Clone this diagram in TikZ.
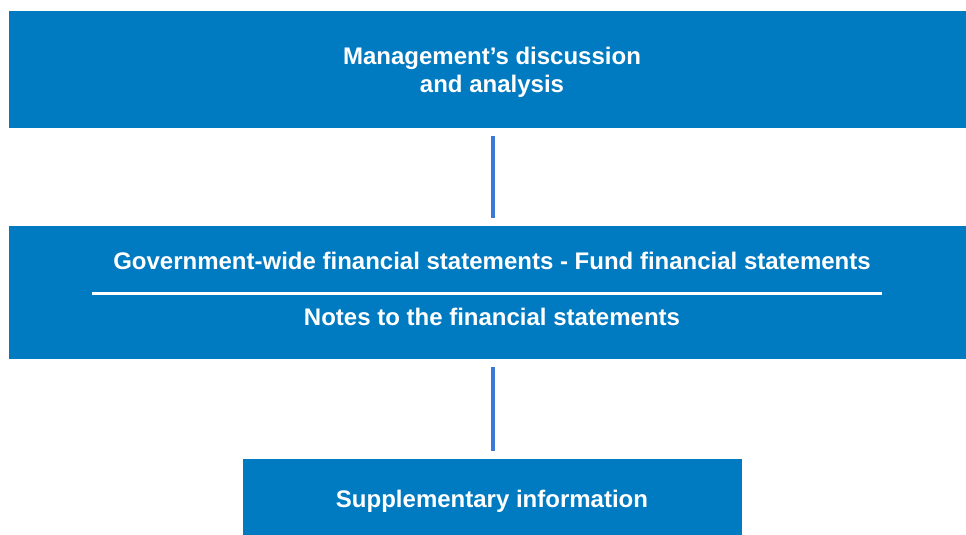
\documentclass[tikz,border=0pt]{standalone}
\usepackage{fontspec}
\setmainfont{Liberation Sans}
\definecolor{boxblue}{RGB}{0,122,193}
\definecolor{linkblue}{RGB}{60,120,216}
\begin{document}
\begin{tikzpicture}[x=1pt,y=-1pt,
  box/.style={fill=boxblue,draw=none,inner sep=0pt,anchor=north west},
  lbl/.style={text=white,font=\bfseries\fontsize{24}{28}\selectfont,align=center,inner sep=0pt},
  link/.style={draw=linkblue,line width=4pt,shorten <=8pt,shorten >=8pt}]
\useasboundingbox[fill=white] (0,0) rectangle (966,535);
\node[box,minimum width=957pt,minimum height=117pt] (top) at (9,11) {};
\node[box,minimum width=957pt,minimum height=133pt] (mid) at (9,226) {};
\node[box,minimum width=499pt,minimum height=76pt] (bot) at (243,459) {};
\coordinate (ax) at (493,0);
\node[lbl] (t1) at (492,72.5) {Management’s discussion\\and analysis};
\node[lbl] (m1) at (492,261) {Government-wide financial statements - Fund financial statements};
\node[lbl] (m2) at (492,317) {Notes to the financial statements};
\node[lbl] (b1) at (492,501) {Supplementary information};
\coordinate (sl) at (92,293.5);
\coordinate (sr) at (882,293.5);
\draw[white,line width=3pt] (sl) -- (sr);
\draw[link] (top.south -| ax) -- (mid.north -| ax);
\draw[link] (mid.south -| ax) -- (bot.north -| ax);
\end{tikzpicture}
\end{document}
